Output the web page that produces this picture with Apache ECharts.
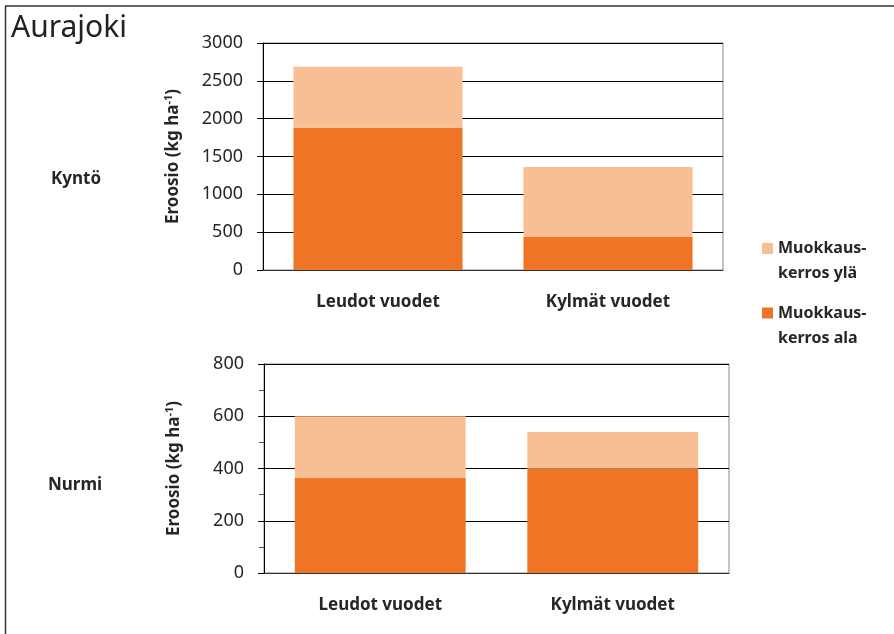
<!DOCTYPE html>
<html>
<head>
<meta charset="utf-8">
<script src="https://cdn.jsdelivr.net/npm/echarts@6/dist/echarts.min.js"></script>
<style>
html,body{margin:0;padding:0;background:#fff;}
#c{width:894px;height:634px;}
</style>
</head>
<body>
<div id="c"></div>
<script>
// ---- data ----
var categories = ['Leudot vuodet', 'Kylmät vuodet'];
var seriesNames = ['Muokkauskerros ylä', 'Muokkauskerros ala'];
var legendLabels = ['Muokkaus-\nkerros ylä', 'Muokkaus-\nkerros ala'];
var rowLabels = ['Kyntö', 'Nurmi'];
var kyntoAla = [1880, 435];
var kyntoYla = [805, 925];
var nurmiAla = [365, 400];
var nurmiYla = [235, 140];
var kyntoTicks = {min: 0, max: 3000, interval: 500};
var nurmiTicks = {min: 0, max: 800, interval: 200};
var titleText = 'Aurajoki';

var FONT = '"Noto Sans", sans-serif';
var DARK = '#F07426';
var LIGHT = '#F8BE94';
var TXT = '#262626';

function yAxis(t, gridIndex, minor) {
  return {
    type: 'value', gridIndex: gridIndex,
    min: t.min, max: t.max, interval: t.interval,
    name: '{n|Eroosio (kg ha}{s|-1}{n|)}',
    nameLocation: 'middle', nameRotate: 90, nameGap: 80,
    nameTextStyle: {
      fontFamily: FONT, color: TXT,
      rich: {
        n: {fontFamily: FONT, fontSize: 17, fontWeight: 'bold', color: TXT, lineHeight: 20},
        s: {fontFamily: FONT, fontSize: 11, fontWeight: 'bold', color: TXT, verticalAlign: 'top', lineHeight: 20}
      }
    },
    axisLine: {show: true, lineStyle: {color: '#000', width: 1}},
    axisTick: {show: true, inside: false, length: 6, lineStyle: {color: '#000'}},
    minorTick: {show: minor, splitNumber: 2, length: 5, lineStyle: {color: '#555'}},
    splitLine: {show: true, lineStyle: {color: '#000', width: 1}},
    axisLabel: {fontFamily: FONT, fontSize: 18, color: TXT, margin: 20,
      formatter: function (v) { return String(v); }}
  };
}
function xAxis(gridIndex) {
  return {
    type: 'category', gridIndex: gridIndex, data: categories,
    axisLine: {show: true, lineStyle: {color: '#333', width: 1}},
    axisTick: {show: false},
    axisLabel: {fontFamily: FONT, fontSize: 17, fontWeight: 'bold', color: TXT, margin: 24}
  };
}
function bar(name, data, xi, color) {
  return {
    type: 'bar', name: name, stack: 's' + xi, data: data,
    xAxisIndex: xi, yAxisIndex: xi, barWidth: '73.5%',
    itemStyle: {color: color}, emphasis: {disabled: true}
  };
}

var chart = echarts.init(document.getElementById('c'), null, {renderer: 'canvas'});
chart.setOption({
  animation: false,
  grid: [
    {left: 263, right: 171, top: 43, bottom: 364, show: true, borderColor: '#888', borderWidth: 1},
    {left: 264, right: 165, top: 364, bottom: 61, show: true, borderColor: '#888', borderWidth: 1}
  ],
  xAxis: [xAxis(0), xAxis(1)],
  yAxis: [yAxis(kyntoTicks, 0, false), yAxis(nurmiTicks, 1, true)],
  legend: {
    orient: 'vertical', left: 757, top: 231,
    itemWidth: 11, itemHeight: 50, itemGap: 14.5,
    selectedMode: false,
    icon: 'path://M0,0M0,50M0,7L11,7L11,18L0,18Z',
    data: [seriesNames[0], seriesNames[1]],
    formatter: function (n) { return legendLabels[seriesNames.indexOf(n)]; },
    textStyle: {fontFamily: FONT, fontSize: 16, fontWeight: 'bold', color: TXT, lineHeight: 25}
  },
  series: [
    bar(seriesNames[1], kyntoAla, 0, DARK),
    bar(seriesNames[0], kyntoYla, 0, LIGHT),
    bar(seriesNames[1], nurmiAla, 1, DARK),
    bar(seriesNames[0], nurmiYla, 1, LIGHT)
  ],
  graphic: [
    {type: 'line', shape: {x1: 5.5, y1: 6, x2: 5.5, y2: 634}, style: {stroke: '#333', lineWidth: 1.5}},
    {type: 'line', shape: {x1: 5, y1: 6, x2: 894, y2: 6}, style: {stroke: '#333', lineWidth: 1.5}},
    {type: 'text', left: 11, top: 13, style: {text: titleText, font: '30px ' + FONT, fill: '#222'}},
    {type: 'text', left: 51, top: 171, style: {text: rowLabels[0], font: 'bold 17px ' + FONT, fill: TXT}},
    {type: 'text', left: 48, top: 477, style: {text: rowLabels[1], font: 'bold 17px ' + FONT, fill: TXT}}
  ]
});
</script>
</body>
</html>
